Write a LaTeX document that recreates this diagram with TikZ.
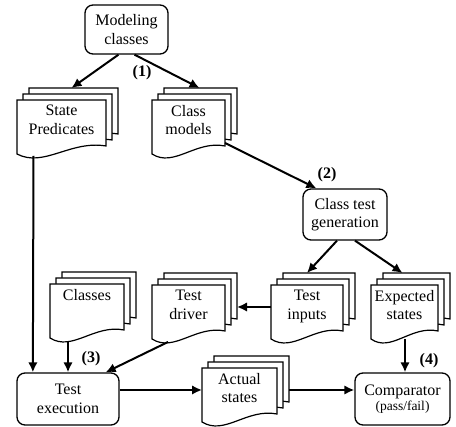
\documentclass[tikz,border=0pt]{standalone}
\usepackage{fontspec}
\setmainfont{Liberation Serif}
\usetikzlibrary{arrows.meta}

\tikzset{
  box/.style={draw, line width=1.3pt, rounded corners=8pt, align=center, inner sep=1pt,
    font=\fontsize{16}{18.5}\selectfont},
  page/.style={draw, fill=white, line width=1.2pt},
  pagebox/.style={rectangle, minimum height=54, inner sep=0pt, outer sep=0pt},
  doctext/.style={anchor=north, align=center, inner sep=1pt, font=\fontsize{16}{18.5}\selectfont},
  tag/.style={inner sep=1pt, font=\fontsize{16}{18}\selectfont\bfseries},
  arr/.style={line width=2pt, -{Latex[length=10pt,width=9.5pt]}}
}

% #1 name, #2 left, #3 top, #4 width, #5 text
\newcommand{\docstack}[5]{%
  \foreach \k in {12,6,0}{%
    \begin{scope}[shift={({#2+\k},{#3-\k})}]
      \filldraw[page] (0,0) -- (#4,0) -- (#4,46)
        .. controls ({0.6*#4},40) and ({0.3*#4},68) .. (0,54) -- cycle;
    \end{scope}}
  \node[pagebox, minimum width=#4, anchor=north west] (#1) at (#2,#3) {};
  \node[doctext] (#1-t) at ([yshift=-4pt]#1.north) {#5};
}

\begin{document}
\begin{tikzpicture}[x=1pt, y=-1pt]
  \useasboundingbox (0,0) rectangle (456,427);

  % process boxes
  \node[box, minimum width=83, minimum height=49] (mc) at (126.5,29.5) {Modeling\\classes};
  \node[box, minimum width=84, minimum height=51] (ctg) at (345,214.5) {Class test\\generation};
  \node[box, minimum width=102, minimum height=52] (te) at (68,399) {Test\\execution};
  \node[box, minimum width=95, minimum height=52] (cp) at (402.5,399)
    {Comparator\\[-4pt]{\fontsize{13.5}{14}\selectfont (pass/fail)}};

  % documents
  \docstack{sp}{17}{100}{89}{State\\Predicates}
  \docstack{cm}{152}{100}{73}{Class\\models}
  \docstack{cl}{50}{284}{74}{Classes}
  \docstack{td}{152}{285}{73}{Test\\driver}
  \docstack{ti}{271}{285}{72}{Test\\inputs}
  \docstack{es}{371}{285}{67}{Expected\\states}
  \docstack{as}{202}{368}{75}{Actual\\states}

  % step numbers
  \node[tag] (t1) at (142,73) {(1)};
  \node[tag] (t2) at (327,175) {(2)};
  \node[tag] (t3) at (91,359) {(3)};
  \node[tag] (t4) at (429,361) {(4)};

  % flows
  \draw[arr] ([xshift=-8pt]mc.south) -- ([xshift=10pt,yshift=12pt]sp.north);
  \draw[arr] ([xshift=8pt]mc.south) -- ([xshift=11pt,yshift=12pt]cm.north);
  \draw[arr] ([yshift=-16pt]cm.east) -- ([xshift=14pt]ctg.north west);
  \draw[arr] ([xshift=-8pt]ctg.south) -- ([yshift=12pt]ti.north);
  \draw[arr] ([xshift=10pt]ctg.south) -- ([xshift=-2pt,yshift=12pt]es.north);
  \draw[arr] ([yshift=5pt]ti.west) -- ([xshift=12pt,yshift=5pt]td.east);
  \draw[arr] ([xshift=16.5pt,yshift=-2pt]sp.south west) -- ([xshift=16.5pt]te.north west);
  \coordinate (cl-b) at ([yshift=-3pt]cl.south);
  \draw[arr] (te.north |- cl-b) -- (te.north);
  \draw[arr] ([xshift=16pt,yshift=-3pt]td.south west) -- ([xshift=-14pt]te.north east);
  \coordinate (es-b) at ([xshift=0.5pt]es.south);
  \draw[arr] (es-b) -- (es-b |- cp.north);
  \draw[arr] ([yshift=9pt]te.east) -- ([yshift=5pt]as.west);
  \draw[arr] ([xshift=12pt,yshift=5pt]as.east) -- ([yshift=9pt]cp.west);
\end{tikzpicture}
\end{document}
